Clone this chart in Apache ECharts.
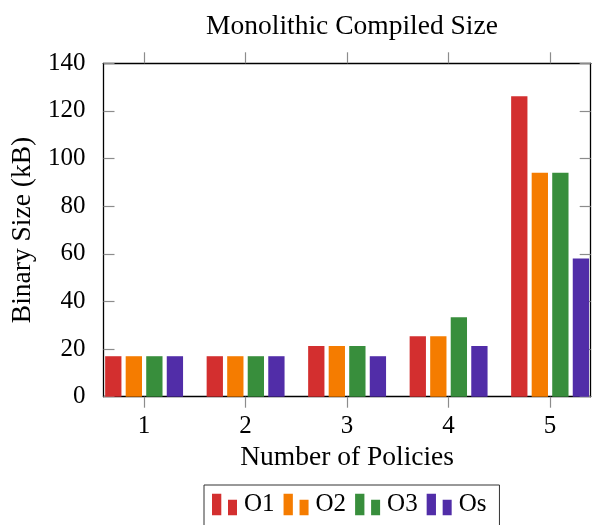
<!DOCTYPE html>
<html>
<head>
    <meta charset="UTF-8">
    <title>Monolithic Compiled Size</title>
    <script src="https://cdn.jsdelivr.net/npm/echarts@6/dist/echarts.min.js"></script>
    <style>
        html, body { margin: 0; padding: 0; background: #fff; }
        #chart { width: 592px; height: 525px; }
    </style>
</head>
<body>
<div id="chart"></div>
<script>
    // number of policies (x positions)
    const policies = [1, 2, 3, 4, 5];
    const seriesNames = ['O1', 'O2', 'O3', 'Os'];
    // binary size in kB
    const o1 = [17, 17, 21.3, 25.4, 126.2];
    const o2 = [17, 17, 21.3, 25.4, 94];
    const o3 = [17, 17, 21.3, 33.4, 94];
    const os = [17, 17, 17, 21.3, 58];
    const yTicks = [0, 20, 40, 60, 80, 100, 120, 140];
    const colors = ['#d32f2f', '#f57c00', '#388e3c', '#512da8'];

    const font = 'Liberation Serif';
    const tickGray = '#8c8c8c';
    // legend icon: two bars side by side
    const legendIcon = 'path://M0,0h9.3v21.7h-9.3z M16,6h9v15.7h-9z';

    let chart = echarts.init(document.getElementById('chart'));

    let allSeries = [o1, o2, o3, os].map((vals, i) => ({
        name: seriesNames[i],
        type: 'bar',
        xAxisIndex: 0,
        yAxisIndex: 0,
        barWidth: 16.3,
        barGap: '26%',
        itemStyle: { color: colors[i] },
        data: policies.map((p, j) => [p, vals[j]])
    }));

    let option = {
        animation: false,
        textStyle: { fontFamily: font },
        title: {
            text: 'Monolithic Compiled Size',
            left: 347,
            textAlign: 'center',
            top: 8,
            textStyle: { fontFamily: font, fontSize: 27.5, fontWeight: 'normal', color: '#000' }
        },
        legend: {
            data: seriesNames,
            left: 204,
            top: 485,
            orient: 'horizontal',
            icon: legendIcon,
            itemWidth: 25,
            itemHeight: 22,
            itemGap: 9,
            padding: [7, 13, 20, 8],
            borderColor: '#333',
            borderWidth: 1,
            borderRadius: 0,
            textStyle: { fontFamily: font, fontSize: 25, color: '#000', padding: [0, 0, 0, 2] }
        },
        grid: {
            left: 103.5,
            right: 1.3,
            top: 63.3,
            bottom: 128.3,
            containLabel: false
        },
        xAxis: [
            {
                type: 'value',
                min: 0.6,
                max: 5.4,
                name: 'Number of Policies',
                nameLocation: 'middle',
                nameGap: 46,
                nameTextStyle: { fontFamily: font, fontSize: 27.5, color: '#000' },
                axisLine: { show: true, lineStyle: { color: '#000', width: 1.3 } },
                axisTick: { show: true, inside: false, length: 11, customValues: policies, lineStyle: { color: tickGray, width: 1.2 } },
                axisLabel: { show: true, customValues: policies, margin: 17, fontFamily: font, fontSize: 25, color: '#000' },
                splitLine: { show: false }
            },
            {
                type: 'value',
                position: 'top',
                min: 0.6,
                max: 5.4,
                axisLine: { show: true, onZero: false, lineStyle: { color: '#000', width: 1.3 } },
                axisTick: { show: true, inside: false, length: 11, customValues: policies, lineStyle: { color: tickGray, width: 1.2 } },
                axisLabel: { show: false },
                splitLine: { show: false }
            }
        ],
        yAxis: [
            {
                type: 'value',
                min: 0,
                max: 140,
                interval: 20,
                name: 'Binary Size (kB)',
                nameLocation: 'middle',
                nameGap: 65,
                nameTextStyle: { fontFamily: font, fontSize: 27.5, color: '#000' },
                axisLine: { show: true, lineStyle: { color: '#000', width: 1.3 } },
                axisTick: { show: true, inside: true, length: 11, customValues: yTicks, lineStyle: { color: tickGray, width: 1.2 } },
                axisLabel: { show: true, margin: 18, fontFamily: font, fontSize: 25, color: '#000' },
                splitLine: { show: false }
            },
            {
                type: 'value',
                position: 'right',
                min: 0,
                max: 140,
                interval: 20,
                axisLine: { show: true, onZero: false, lineStyle: { color: '#000', width: 1.3 } },
                axisTick: { show: true, inside: true, length: 11, customValues: yTicks, lineStyle: { color: tickGray, width: 1.2 } },
                axisLabel: { show: false },
                splitLine: { show: false }
            }
        ],
        series: allSeries
    };

    chart.setOption(option);
</script>
</body>
</html>
